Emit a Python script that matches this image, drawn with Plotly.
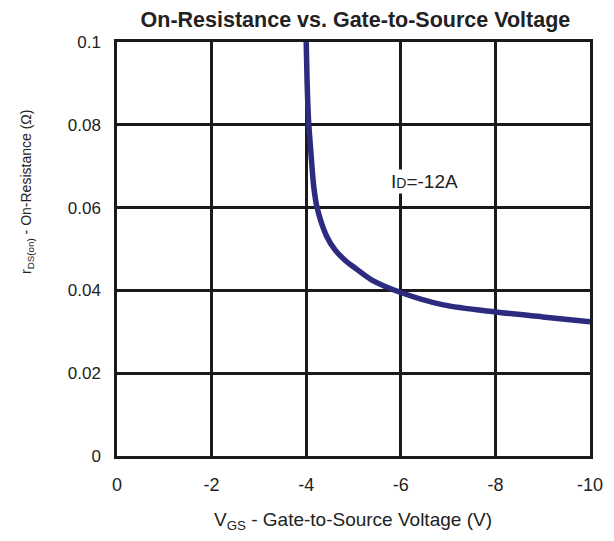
import plotly.graph_objects as go

# Data
vgs = [-4.0, -4.02, -4.05, -4.1, -4.16, -4.23, -4.44, -4.61, -4.82, -5.0, -5.39, -6.0, -6.9, -8.0, -9.0, -10.0]
rds_on = [0.100, 0.090, 0.081, 0.0732, 0.065, 0.060, 0.0529, 0.0498, 0.0473, 0.0457, 0.0425, 0.0395, 0.0365, 0.0348, 0.0336, 0.0324]

x_tick_vals = [0, -2, -4, -6, -8, -10]
x_tick_text = ["0", "-2", "-4", "-6", "-8", "-10"]
y_tick_vals = [0, 0.02, 0.04, 0.06, 0.08, 0.1]
y_tick_text = ["0", "0.02", "0.04", "0.06", "0.08", "0.1"]

label_x = -6.5
label_y = 0.0662

FONT = "Liberation Sans, Arial, sans-serif"
TXT = "#222222"
GRID = "#1a1a1a"

fig = go.Figure()
fig.add_trace(go.Scatter(
    x=vgs, y=rds_on, mode="lines",
    line=dict(color="#2d2b80", width=5.5, shape="spline", smoothing=0.8),
    showlegend=False, hoverinfo="skip",
))

fig.add_annotation(
    x=label_x, y=label_y, xref="x", yref="y",
    text='I<span style="font-size:14px">D</span>=-12A',
    showarrow=False, bgcolor="white",
    font=dict(family=FONT, size=19, color=TXT),
    borderpad=1,
)

# y-axis title
fig.add_annotation(
    x=-0.19, xref="paper", y=0.638, yref="paper",
    xanchor="center", yanchor="middle",
    text="r<sub>DS(on)</sub> - On-Resistance (\u03a9)",
    showarrow=False, textangle=-90,
    font=dict(family=FONT, size=14, color=TXT),
)

# x-axis title
fig.add_annotation(
    x=0.499, xref="paper", y=-0.157, yref="paper",
    xanchor="center", yanchor="middle",
    text="V<sub>GS</sub> - Gate-to-Source Voltage (V)",
    showarrow=False,
    font=dict(family=FONT, size=19, color=TXT),
)

fig.update_layout(
    width=606, height=533,
    margin=dict(l=109, r=24, t=34, b=85),
    paper_bgcolor="white", plot_bgcolor="white",
    title=dict(
        text="<b>On-Resistance vs. Gate-to-Source Voltage</b>",
        x=0.504, xref="paper", xanchor="center",
        y=0.978, yref="container", yanchor="middle",
        font=dict(family=FONT, size=21.5, color=TXT),
    ),
    xaxis=dict(
        range=[0, -10], tickvals=x_tick_vals, ticktext=x_tick_text,
        showgrid=True, gridcolor=GRID, gridwidth=2.5,
        showline=True, linecolor=GRID, linewidth=2.5, mirror=True,
        zeroline=False, ticks="", ticklabelstandoff=11,
        tickfont=dict(family=FONT, size=18, color=TXT),
    ),
    yaxis=dict(
        range=[0, 0.1], tickvals=y_tick_vals, ticktext=y_tick_text,
        showgrid=True, gridcolor=GRID, gridwidth=2.5,
        showline=True, linecolor=GRID, linewidth=2.5, mirror=True,
        zeroline=False, ticks="", ticklabelstandoff=10,
        tickfont=dict(family=FONT, size=17, color=TXT),
    ),
)

fig.write_html("out.html")
